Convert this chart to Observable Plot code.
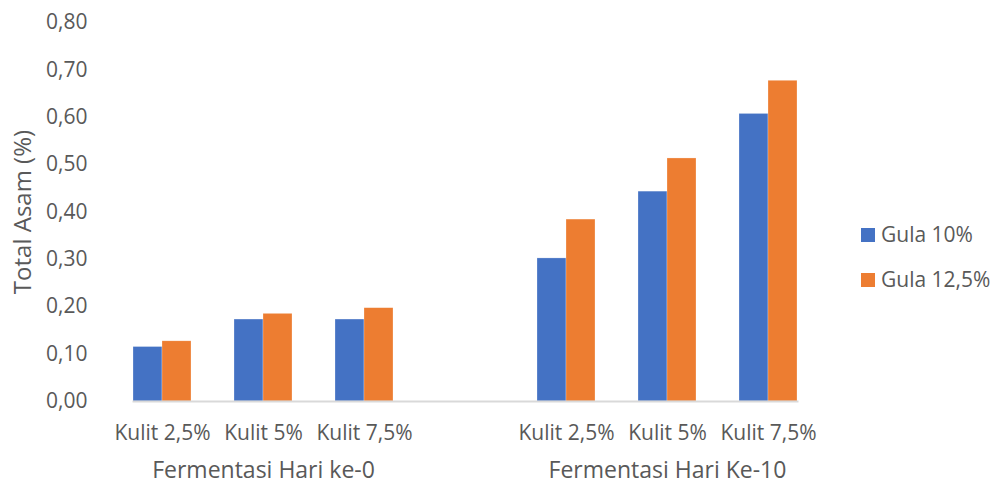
<!DOCTYPE html>
<html><head><meta charset="utf-8">
<script src="https://cdn.jsdelivr.net/npm/d3@7"></script>
<script src="https://cdn.jsdelivr.net/npm/@observablehq/plot@0.6"></script>
<style>
body{margin:0;background:#fff;font-family:"Open Sans",sans-serif;}
#wrap{position:relative;width:994px;height:484px;overflow:hidden;}
.leg{position:absolute;left:861px;display:flex;align-items:center;font-size:21px;color:#595959;line-height:1;}
.sw{width:14px;height:14px;margin-right:6px;}
</style></head><body><div id="wrap"></div>
<script>
const categories = ["Kulit 2,5%", "Kulit 5%", "Kulit 7,5%"];
const days = ["Fermentasi Hari ke-0", "Fermentasi Hari Ke-10"];
const series = ["Gula 10%", "Gula 12,5%"];
const gula10 = [0.115, 0.173, 0.173, 0.302, 0.443, 0.607];
const gula125 = [0.127, 0.185, 0.197, 0.384, 0.513, 0.677];
const colors = ["#4472C4", "#ED7D31"];
const yTicks = [0, 0.1, 0.2, 0.3, 0.4, 0.5, 0.6, 0.7, 0.8];
const yLabel = "Total Asam (%)";

// slot domain: 3 categories per day with an empty slot between the groups
const slotDomain = [];
days.forEach((d, i) => {
  if (i > 0) slotDomain.push("gap");
  categories.forEach(c => slotDomain.push(i + "|" + c));
});
const data = [];
days.forEach((d, i) => categories.forEach((c, j) => {
  const k = i * categories.length + j;
  data.push({slot: i + "|" + c, series: series[0], value: gula10[k]});
  data.push({slot: i + "|" + c, series: series[1], value: gula125[k]});
}));
const groups = days.map((d, i) => ({slot: i + "|" + categories[1], label: d}));

const chart = Plot.plot({
  width: 994, height: 484,
  marginLeft: 111, marginRight: 175, marginTop: 22, marginBottom: 83,
  style: {fontFamily: "Open Sans", fontSize: "21px", color: "#595959", background: "#fff", overflow: "visible"},
  fx: {domain: slotDomain, paddingInner: 0.43, paddingOuter: 0.215,
       tickFormat: s => s.includes("|") ? s.split("|")[1] : "", tickSize: 0, tickPadding: 24, label: null},
  x: {domain: series, padding: 0, axis: null},
  y: {domain: [0, 0.8]},
  color: {domain: series, range: colors},
  marks: [
    Plot.axisY(yTicks, {tickFormat: v => v.toFixed(2).replace(".", ","), tickSize: 0, dx: -37,
      facetAnchor: "left", label: null, fontSize: 21, fill: "#595959"}),
    Plot.barY(data, {fx: "slot", x: "series", y: "value", fill: "series", stroke: "#fff", strokeOpacity: 0.5, strokeWidth: 0.5}),
    Plot.frame({anchor: "bottom", facet: "super", stroke: "#D9D9D9", strokeWidth: 2}),
    Plot.text([yLabel], {text: d => d, frameAnchor: "left", rotate: -90, dx: -110, textAnchor: "middle", lineAnchor: "middle",
      facet: "super", fontSize: 24, fill: "#595959"}),
    Plot.text(groups, {fx: "slot", text: "label", frameAnchor: "bottom", dy: 76, fontSize: 23, fill: "#595959"})
  ]
});
const wrap = document.getElementById("wrap");
wrap.appendChild(chart);
series.forEach((s, i) => {
  const el = document.createElement("div");
  el.className = "leg";
  el.style.top = (224 + i * 45) + "px";
  el.innerHTML = `<span class="sw" style="background:${colors[i]}"></span><span>${s}</span>`;
  wrap.appendChild(el);
});
</script>
</body></html>
